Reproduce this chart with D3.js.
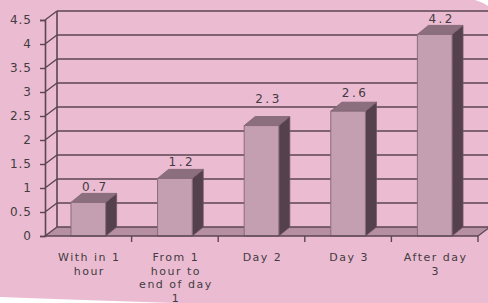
<!DOCTYPE html>
<html><head><meta charset="utf-8">
<script src="https://cdn.jsdelivr.net/npm/d3@7/dist/d3.min.js"></script>
<style>html,body{margin:0;padding:0;background:#fff;}svg{display:block;}</style>
</head><body>
<svg id="c" width="488" height="303"></svg>
<script>
const categories = ["With in 1 hour", "From 1 hour to end of day 1", "Day 2", "Day 3", "After day 3"];
const categoryLines = [["With in 1", "hour"], ["From 1", "hour to", "end of day", "1"], ["Day 2"], ["Day 3"], ["After day", "3"]];
const values = [0.7, 1.2, 2.3, 2.6, 4.2];
const yTicks = [0, 0.5, 1, 1.5, 2, 2.5, 3, 3.5, 4, 4.5];

(function () {
const svg = d3.select("#c");
const W = 488, H = 303;
const pLeft = 45, pRight = 478, pBottom = 236, pTop = 20;
const wdx = 12, wdy = 9;   // wall depth
const bdx = 11, bdy = 9;   // bar depth
const labelLift = [0, 1, 12, 3, 0]; // extra lift of each value label (layout)
const bg = "#ebbbd1", grid = "#5b4652", txt = "#433b41";

// pink page shape
svg.append("path")
  .attr("d", `M0,0 L475,0 Q482,2 488,6 L488,303 L175,303 Q80,300 0,297 Z`)
  .attr("fill", bg);

const y = d3.scaleLinear().domain([0, 4.5]).range([pBottom, pTop]);
const x = d3.scaleBand().domain(categories).range([pLeft, pRight]).paddingInner(0.6).paddingOuter(0.3);
const step = x.step();
const bound = c => x(c) - step * x.paddingInner() / 2;

// floor
svg.append("path")
  .attr("d", `M${pLeft},${pBottom} L${pRight},${pBottom} L${pRight + wdx},${pBottom - wdy} L${pLeft + wdx},${pBottom - wdy} Z`)
  .attr("fill", "#b68fa3");

// back wall gridlines
svg.append("g").selectAll("line").data(yTicks).join("line")
  .attr("x1", pLeft + wdx).attr("x2", W + 5)
  .attr("y1", d => y(d) - wdy).attr("y2", d => y(d) - wdy)
  .attr("stroke", grid).attr("stroke-width", 1.6);
// side wall diagonals
svg.append("g").selectAll("line").data(yTicks).join("line")
  .attr("x1", pLeft).attr("x2", pLeft + wdx)
  .attr("y1", d => y(d)).attr("y2", d => y(d) - wdy)
  .attr("stroke", grid).attr("stroke-width", 1.4);
// back wall left edge
svg.append("line").attr("x1", pLeft + wdx).attr("x2", pLeft + wdx)
  .attr("y1", y(4.5) - wdy).attr("y2", y(0) - wdy)
  .attr("stroke", grid).attr("stroke-width", 1.6);

// bars
const bars = svg.append("g").selectAll("g").data(values).join("g");
const bw = x.bandwidth();
bars.append("path") // side
  .attr("d", (d, i) => {
    const x1 = x(categories[i]) + bw, yt = y(d), yb = y(0);
    return `M${x1},${yb} L${x1},${yt} L${x1 + bdx},${yt - bdy} L${x1 + bdx},${yb - bdy} Z`;
  })
  .attr("fill", "#54414d").attr("stroke", "#6e5664").attr("stroke-width", 0.8);
bars.append("path") // top
  .attr("d", (d, i) => {
    const x0 = x(categories[i]), yt = y(d);
    return `M${x0},${yt} L${x0 + bw},${yt} L${x0 + bw + bdx},${yt - bdy} L${x0 + bdx},${yt - bdy} Z`;
  })
  .attr("fill", "#8c6f7f").attr("stroke", "#7a6070").attr("stroke-width", 0.8);
bars.append("rect") // front
  .attr("x", (d, i) => x(categories[i])).attr("y", d => y(d))
  .attr("width", bw).attr("height", d => y(0) - y(d))
  .attr("fill", "#c49fb2").attr("stroke", "#8a6c7c").attr("stroke-width", 1);

// value labels
bars.append("text")
  .attr("x", (d, i) => x(categories[i]) + (bw + bdx) / 2 + 1.5)
  .attr("y", (d, i) => y(d) - bdy - 2 - labelLift[i])
  .attr("text-anchor", "middle")
  .attr("font-family", "DejaVu Sans").attr("font-size", 12)
  .attr("letter-spacing", 2.5).attr("fill", txt)
  .text(d => d);

// right floor diagonal
svg.append("line").attr("x1", pRight).attr("x2", pRight + wdx)
  .attr("y1", pBottom).attr("y2", pBottom - wdy)
  .attr("stroke", grid).attr("stroke-width", 1.2);

// y axis
const yAxis = svg.append("g").attr("transform", `translate(${pLeft},0)`)
  .call(d3.axisLeft(y).tickValues(yTicks).tickSize(5).tickPadding(8).tickFormat(d3.format("")));
yAxis.select(".domain").attr("stroke", grid).attr("stroke-width", 1.6);
yAxis.selectAll(".tick line").attr("stroke", grid).attr("stroke-width", 1.4);
yAxis.selectAll(".tick text").attr("font-family", "DejaVu Sans").attr("font-size", 12)
  .attr("letter-spacing", 1).attr("fill", txt);

// x axis line + boundary ticks
svg.append("line").attr("x1", pLeft).attr("x2", pRight).attr("y1", pBottom).attr("y2", pBottom)
  .attr("stroke", grid).attr("stroke-width", 1.6);
const bounds = categories.map(bound).concat([pRight]).slice(1);
svg.append("g").selectAll("line").data(bounds).join("line")
  .attr("x1", d => d).attr("x2", d => d).attr("y1", pBottom).attr("y2", pBottom + 6)
  .attr("stroke", grid).attr("stroke-width", 1.4);

// category labels
const cl = svg.append("g").selectAll("text").data(categories).join("text")
  .attr("x", c => x(c) + bw / 2 + 1)
  .attr("y", 261)
  .attr("text-anchor", "middle")
  .attr("font-family", "DejaVu Sans").attr("font-size", 11)
  .attr("letter-spacing", 1.5).attr("fill", txt);
cl.each(function (c, i) {
  d3.select(this).selectAll("tspan").data(categoryLines[i]).join("tspan")
    .attr("x", x(c) + bw / 2 + 1)
    .attr("dy", (d, j) => j === 0 ? 0 : 13.6)
    .text(d => d);
});
})();
</script>
</body></html>
